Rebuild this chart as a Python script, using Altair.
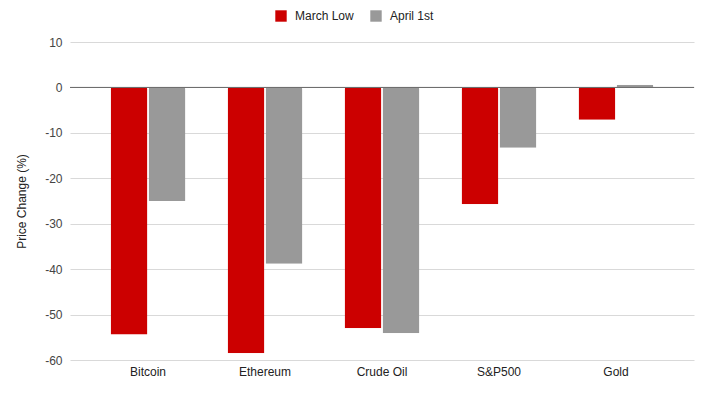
import altair as alt
import pandas as pd

categories = ["Bitcoin", "Ethereum", "Crude Oil", "S&P500", "Gold"]
march_low = [-54.4, -58.5, -53.0, -25.7, -7.1]
april_1st = [-25.0, -38.8, -54.1, -13.3, 0.6]
series = ["March Low", "April 1st"]
colors = ["#cc0000", "#999999"]

rows = []
for c, m, a in zip(categories, march_low, april_1st):
    rows.append({"Asset": c, "Series": series[0], "Value": m})
    rows.append({"Asset": c, "Series": series[1], "Value": a})
df = pd.DataFrame(rows)

font = "Liberation Sans"

bars = alt.Chart(df).mark_bar(cornerRadiusEnd=2).encode(
    x=alt.X("Asset:N", sort=categories, title=None,
            scale=alt.Scale(paddingInner=0.36, paddingOuter=0.347),
            axis=alt.Axis(labelAngle=0, ticks=False, domain=False, labelFont=font,
                          labelFontSize=12, labelColor="#222222", labelPadding=6)),
    xOffset=alt.XOffset("Series:N", sort=series, scale=alt.Scale(paddingInner=0.03)),
    y=alt.Y("Value:Q", title="Price Change (%)",
            scale=alt.Scale(domain=[-60, 10], nice=False),
            axis=alt.Axis(values=list(range(-60, 11, 10)), ticks=False, domain=False,
                          labelExpr="replace(format(datum.value, 'd'), '−', '-')",
                          gridColor="#d9d9d9", labelFont=font, labelFontSize=12,
                          labelColor="#444444", labelPadding=8, titleFont=font,
                          titleFontSize=12, titleFontWeight="normal", titleColor="#222222",
                          titlePadding=16)),
    color=alt.Color("Series:N", sort=series,
                    scale=alt.Scale(domain=series, range=colors),
                    legend=alt.Legend(title=None, orient="none", direction="horizontal",
                                      legendX=205, legendY=-32, symbolType="square",
                                      symbolSize=130, symbolStrokeWidth=0,
                                      labelFont=font, labelFontSize=12, labelColor="#222222",
                                      columnPadding=16, labelOffset=8)),
)

zero = alt.Chart(pd.DataFrame({"z": [0]})).mark_rule(color="#666666", strokeWidth=1).encode(y="z:Q")

chart = alt.layer(bars, zero).properties(
    width=624, height=318,
    autosize=alt.AutoSizeParams(type="none"),
    padding={"left": 62, "top": 34, "right": 5, "bottom": 30},
).configure_view(stroke=None).configure_axisY(gridWidth=1)

chart.save("out.html", embed_options={"renderer": "svg", "actions": False})
